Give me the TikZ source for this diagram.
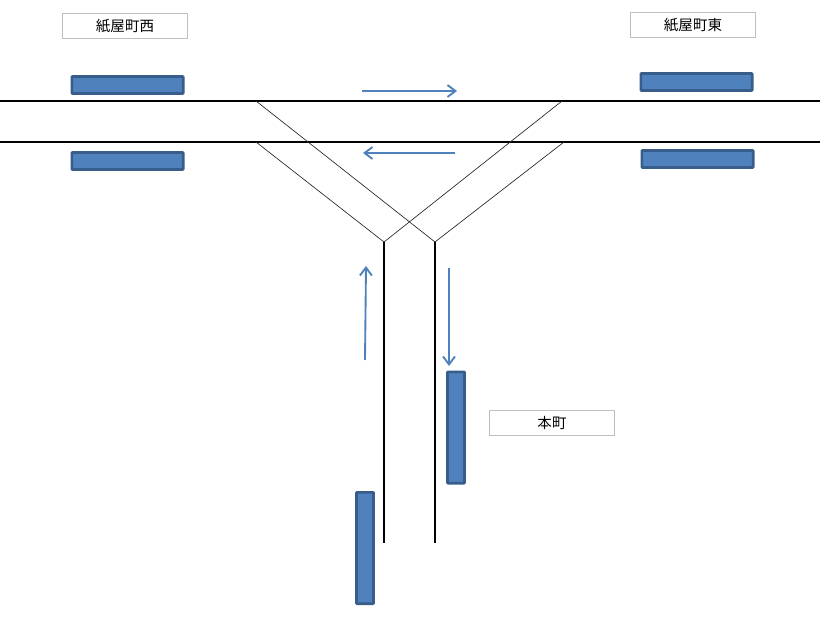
\documentclass[tikz,border=0pt]{standalone}
\usepackage{fontspec}
\usetikzlibrary{arrows.meta}
\newfontfamily\cjk{Noto Sans CJK JP}
\definecolor{platfill}{HTML}{4F81BD}
\definecolor{platedge}{HTML}{385D8A}
\definecolor{labeledge}{HTML}{BFBFBF}
\begin{document}
\begin{tikzpicture}[>=stealth,x=0.75pt,y=-0.75pt,
    every node/.style={font=\cjk\fontsize{10.9pt}{12pt}\selectfont},
    plath/.style={draw=platedge,fill=platfill,line width=2pt,rounded corners=0.5pt,minimum width=83.5pt,minimum height=12.75pt,inner sep=0pt},
    platv/.style={draw=platedge,fill=platfill,line width=2pt,rounded corners=0.5pt,minimum width=12.75pt,minimum height=83.5pt,inner sep=0pt},
    stn/.style={draw=labeledge,fill=white,line width=0.75pt,minimum width=93.75pt,minimum height=18.75pt,inner sep=0pt},
    track/.style={line width=1.5pt,black},
    branch/.style={line width=0.5pt,black!85},
    flow/.style={draw=platfill,line width=1.4pt,-{Straight Barb[length=6pt,width=9pt]}}]
  \useasboundingbox (0,0) rectangle (828,627);
  % junction points
  \coordinate (wt) at (0,101);
  \coordinate (et) at (820,101);
  \coordinate (wb) at (0,142);
  \coordinate (eb) at (820,142);
  \coordinate (a) at (256,101);
  \coordinate (b) at (562,101);
  \coordinate (c) at (256,142);
  \coordinate (d) at (564,142);
  \coordinate (l) at (384,242);
  \coordinate (r) at (435,242);
  \coordinate (ls) at (384,543);
  \coordinate (rs) at (435,543);
  % tracks
  \draw[track] (wt) -- (et);
  \draw[track] (wb) -- (eb);
  \draw[track] (l) -- (ls);
  \draw[track] (r) -- (rs);
  \draw[branch] (a) -- (r);
  \draw[branch] (b) -- (l);
  \draw[branch] (c) -- (l);
  \draw[branch] (d) -- (r);
  % platforms
  \node[plath] (p1) at (127.5,85) {};
  \node[plath] (p2) at (127.5,161) {};
  \node[plath] (p3) at (696.5,82) {};
  \node[plath] (p4) at (697.5,159) {};
  \node[platv] (p5) at (456,427.5) {};
  \node[platv] (p6) at (365,548) {};
  % names
  \node[stn] (n1) at (125,26) {紙屋町西};
  \node[stn] (n2) at (693,25) {紙屋町東};
  \node[stn] (n3) at (552,423) {本町};
  % directions
  \coordinate (f1) at (362,91);
  \coordinate (f2) at (457,91);
  \coordinate (f3) at (455,153);
  \coordinate (f4) at (363,153);
  \coordinate (f5) at (365,360);
  \coordinate (f6) at (366,266);
  \coordinate (f7) at (449,268);
  \coordinate (f8) at (449,366);
  \draw[flow] (f1) -- (f2);
  \draw[flow] (f3) -- (f4);
  \draw[flow] (f5) -- (f6);
  \draw[flow] (f7) -- (f8);
\end{tikzpicture}
\end{document}
